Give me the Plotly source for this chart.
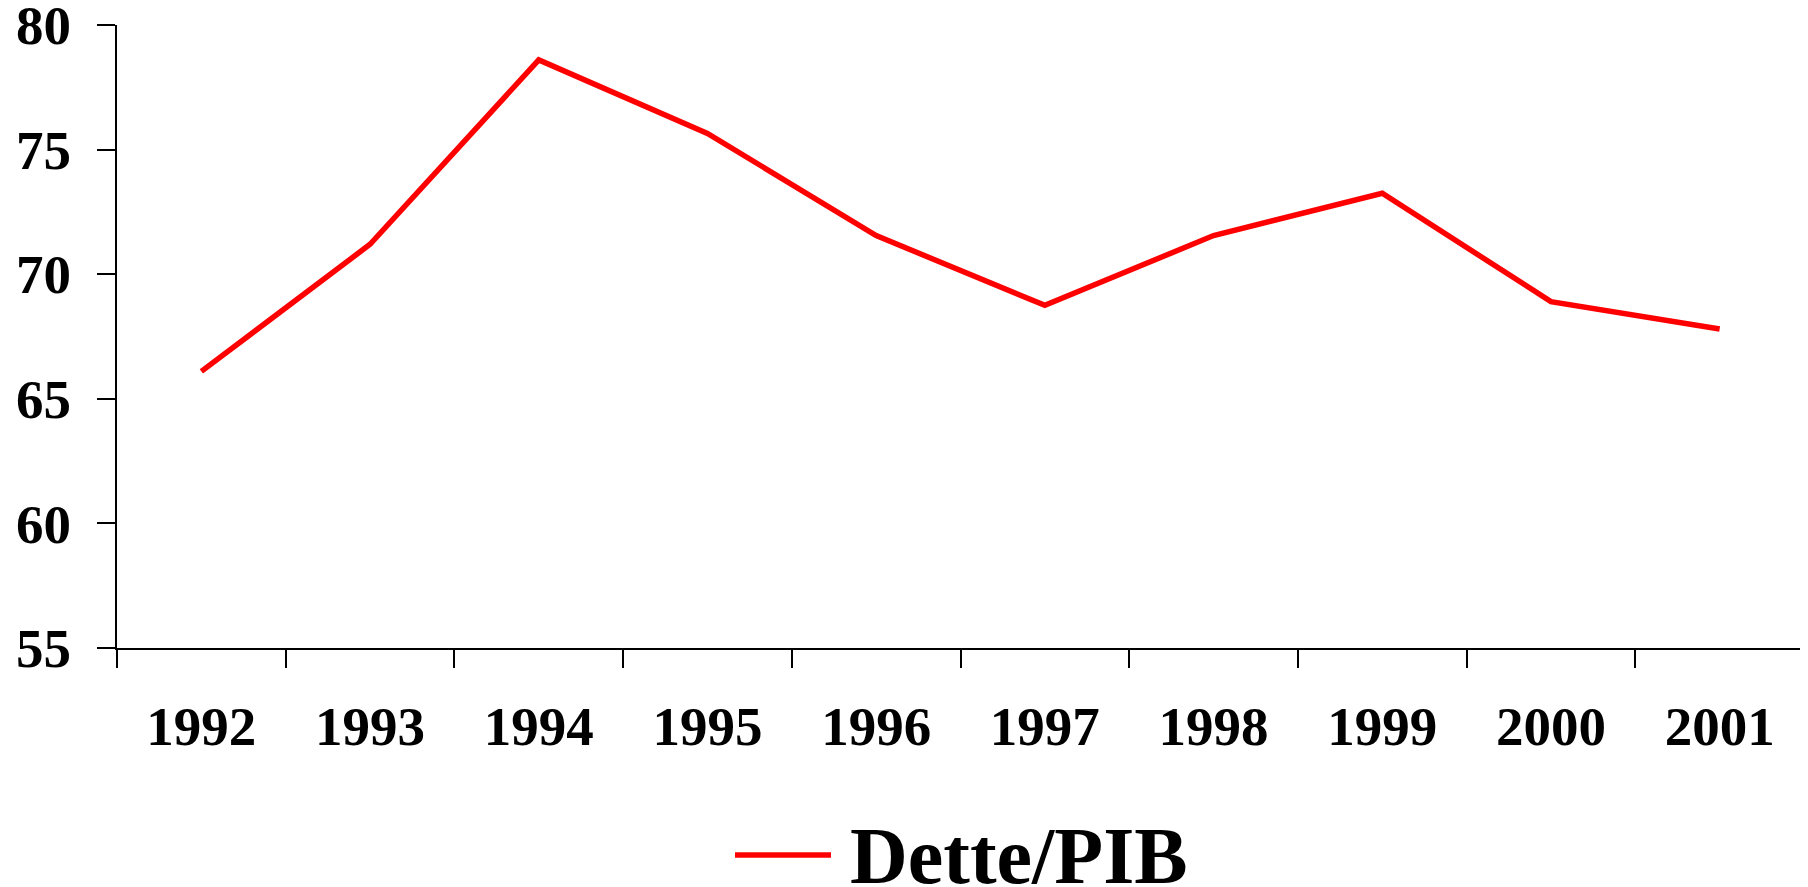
import plotly.graph_objects as go

years = ["1992", "1993", "1994", "1995", "1996", "1997", "1998", "1999", "2000", "2001"]
dette_pib = [66.1, 71.2, 78.6, 75.65, 71.55, 68.75, 71.55, 73.25, 68.9, 67.8]
y_ticks = [55, 60, 65, 70, 75, 80]
series_name = "Dette/PIB"

FONT = "Liberation Serif"

# page body has an 8px margin; size the figure so it lands on the 1808x887 view
W, H = 1800, 879
L, R, T, B = 109, 4, 17, 239
PW, PH = W - L - R, H - T - B

def px(x):
    return (x - L) / PW

def py(y):
    return (H - B - y) / PH

fig = go.Figure()
fig.add_trace(go.Scatter(
    x=years, y=dette_pib, mode="lines", name=series_name,
    line=dict(color="#ff0000", width=5.5), showlegend=False,
))

fig.update_layout(
    width=W, height=H,
    margin=dict(l=L, r=R, t=T, b=B, autoexpand=False),
    paper_bgcolor="white", plot_bgcolor="white",
    font=dict(family=FONT, color="black"),
    xaxis=dict(
        type="category", range=[-0.5, 9.5], automargin=False,
        showline=True, linecolor="black", linewidth=2,
        ticks="outside", ticklen=18, tickwidth=2, tickcolor="black",
        tickson="boundaries", showgrid=False, zeroline=False,
        tickfont=dict(family=FONT, size=55, color="black", weight="bold"),
        ticklabelstandoff=29, ticklabeloverflow="allow",
    ),
    yaxis=dict(
        range=[55, 80], tickvals=y_ticks, automargin=False,
        showline=True, linecolor="black", linewidth=2,
        ticks="outside", ticklen=18, tickwidth=2, tickcolor="black",
        showgrid=False, zeroline=False,
        tickfont=dict(family=FONT, size=55, color="black", weight="bold"),
        ticklabelstandoff=15, ticklabeloverflow="allow",
    ),
)

# Legend drawn manually (long sample line as in the reference)
fig.add_shape(type="line", xref="paper", yref="paper",
              x0=px(727), x1=px(823), y0=py(847), y1=py(847),
              line=dict(color="#ff0000", width=5.5))
fig.add_annotation(text="<b>" + series_name + "</b>", xref="paper", yref="paper",
                   x=px(840), y=py(848),
                   xanchor="left", yanchor="middle", showarrow=False,
                   font=dict(family=FONT, size=80, color="black"))

fig.write_html("out.html")
